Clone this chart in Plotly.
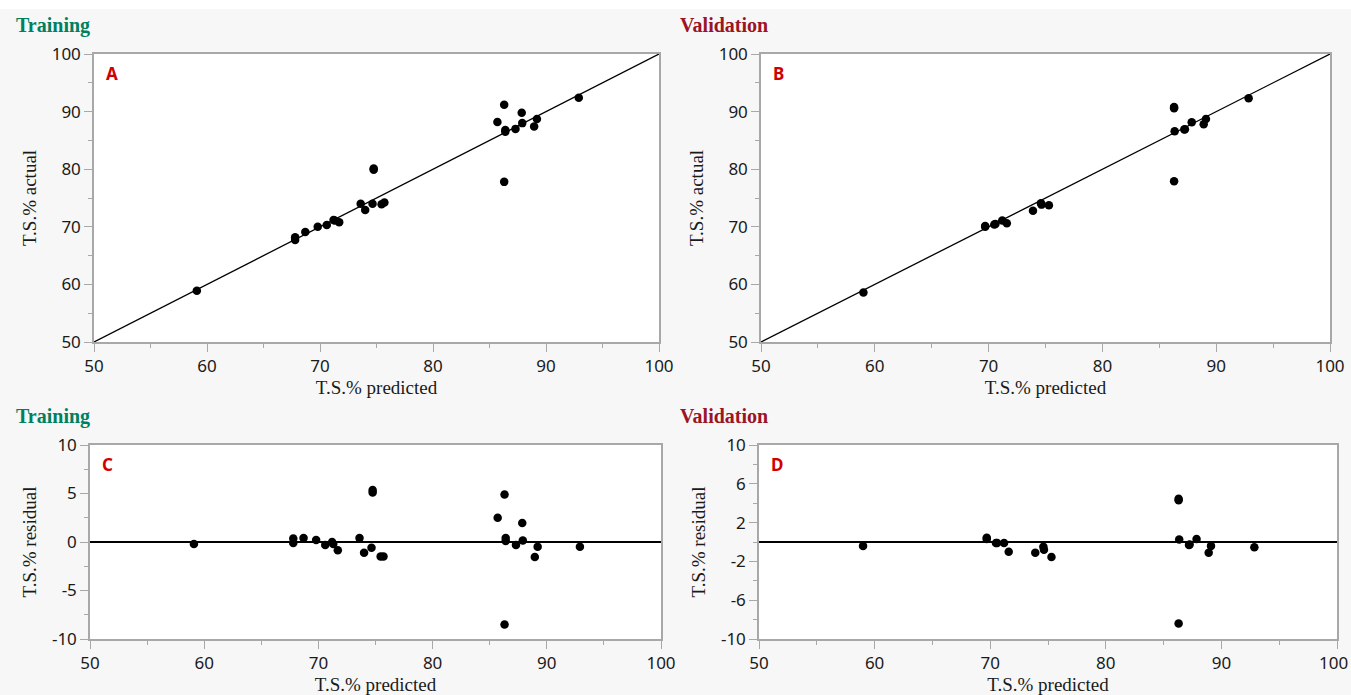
import plotly.graph_objects as go

# ---------------- data ----------------
train_pred = [59.1, 67.8, 67.8, 68.7, 69.8, 70.6, 71.2, 71.3, 71.7, 73.6, 74.0, 74.65,
              74.75, 74.75, 75.45, 75.7, 85.7, 86.3, 86.4, 86.4, 86.3, 87.3, 87.85,
              87.9, 88.95, 89.2, 92.9]
train_actual = [58.9, 68.2, 67.7, 69.1, 70.0, 70.3, 71.2, 71.1, 70.8, 74.0, 72.9, 74.0,
                80.1, 79.9, 73.9, 74.2, 88.2, 91.2, 86.8, 86.5, 77.8, 87.0, 89.8,
                88.0, 87.4, 88.7, 92.4]
train_resid = [-0.2, 0.35, -0.1, 0.4, 0.2, -0.3, 0.0, -0.2, -0.85, 0.4, -1.1, -0.6,
               5.35, 5.1, -1.5, -1.5, 2.5, 4.9, 0.4, 0.1, -8.5, -0.3, 1.95,
               0.15, -1.55, -0.5, -0.5]

valid_pred = [59.0, 69.7, 69.7, 70.5, 70.6, 71.2, 71.6, 73.9, 74.6, 74.65, 75.3,
              86.3, 86.3, 86.35, 86.3, 87.2, 87.25, 87.85, 88.9, 89.1, 92.85]
valid_actual = [58.6, 70.15, 70.0, 70.4, 70.5, 71.1, 70.6, 72.8, 74.1, 73.85, 73.75,
                90.8, 90.6, 86.6, 77.9, 86.9, 86.95, 88.15, 87.8, 88.7, 92.3]
valid_resid = [-0.4, 0.45, 0.3, -0.1, -0.1, -0.1, -1.0, -1.1, -0.5, -0.8, -1.55,
               4.45, 4.3, 0.25, -8.4, -0.3, -0.25, 0.3, -1.1, -0.4, -0.55]

x_range = [50, 100]
x_ticks = [50, 60, 70, 80, 90, 100]
y_ticks_top = [50, 60, 70, 80, 90, 100]
y_ticks_c = [-10, -5, 0, 5, 10]
y_ticks_d = [-10, -6, -2, 2, 6, 10]

panel_titles = ["Training", "Validation", "Training", "Validation"]
panel_letters = ["A", "B", "C", "D"]
x_title = "T.S.% predicted"
y_titles = ["T.S.% actual", "T.S.% actual", "T.S.% residual", "T.S.% residual"]

# ---------------- layout helpers ----------------
W, H = 1351, 695
def fx(px):
    return px / W
def fy(py):
    return 1 - py / H

# plot-area pixel boxes (left, right, top, bottom)
boxes = [(94, 659, 54, 342), (761, 1330, 54, 342),
         (90, 661, 445, 639), (759, 1337, 445, 639)]

fig = go.Figure()

MK = dict(color="black", size=8.5)
axis_names = [("x", "y"), ("x2", "y2"), ("x3", "y3"), ("x4", "y4")]

# reference lines
fig.add_trace(go.Scatter(x=x_range, y=x_range, mode="lines", line=dict(color="black", width=1.3),
                         xaxis="x", yaxis="y", hoverinfo="skip"))
fig.add_trace(go.Scatter(x=x_range, y=x_range, mode="lines", line=dict(color="black", width=1.3),
                         xaxis="x2", yaxis="y2", hoverinfo="skip"))
fig.add_trace(go.Scatter(x=x_range, y=[0, 0], mode="lines", line=dict(color="black", width=2),
                         xaxis="x3", yaxis="y3", hoverinfo="skip"))
fig.add_trace(go.Scatter(x=x_range, y=[0, 0], mode="lines", line=dict(color="black", width=2),
                         xaxis="x4", yaxis="y4", hoverinfo="skip"))

# data points
fig.add_trace(go.Scatter(x=train_pred, y=train_actual, mode="markers", marker=MK, xaxis="x", yaxis="y"))
fig.add_trace(go.Scatter(x=valid_pred, y=valid_actual, mode="markers", marker=MK, xaxis="x2", yaxis="y2"))
fig.add_trace(go.Scatter(x=train_pred, y=train_resid, mode="markers", marker=MK, xaxis="x3", yaxis="y3"))
fig.add_trace(go.Scatter(x=valid_pred, y=valid_resid, mode="markers", marker=MK, xaxis="x4", yaxis="y4"))

TICKFONT = dict(family="Noto Sans", size=17, color="#1a1a1a")
TITLEFONT = dict(family="Liberation Serif", size=19, color="#1a1a1a")
BORDER = "#a8a8a8"

def labels(vals):
    return [str(v) for v in vals]

def xaxis(i):
    l, r, t, b = boxes[i]
    return dict(domain=[fx(l), fx(r)], range=x_range, anchor=axis_names[i][1], automargin=False,
                tickvals=x_ticks, ticktext=labels(x_ticks),
                ticks="outside", ticklen=8, tickcolor=BORDER, tickwidth=1.3,
                minor=dict(dtick=5, tick0=50, ticks="outside", ticklen=4, tickcolor=BORDER, tickwidth=1.3),
                showline=True, linecolor=BORDER, linewidth=1.5, mirror=True,
                showgrid=False, zeroline=False, tickfont=TICKFONT,
                title=dict(text=x_title, font=TITLEFONT, standoff=2))

def yaxis(i, rng, ticks, minor_dtick, minor_tick0):
    l, r, t, b = boxes[i]
    return dict(domain=[fy(b), fy(t)], range=rng, anchor=axis_names[i][0], automargin=False,
                tickvals=ticks, ticktext=labels(ticks),
                ticks="outside", ticklen=8, tickcolor=BORDER, tickwidth=1.3,
                minor=dict(dtick=minor_dtick, tick0=minor_tick0, ticks="outside", ticklen=4,
                           tickcolor=BORDER, tickwidth=1.3),
                showline=True, linecolor=BORDER, linewidth=1.5, mirror=True,
                showgrid=False, zeroline=False, tickfont=TICKFONT,
                title=dict(text=y_titles[i], font=TITLEFONT, standoff=10))

fig.update_layout(
    width=W, height=H, showlegend=False, autosize=False,
    margin=dict(l=0, r=0, t=0, b=0, autoexpand=False),
    paper_bgcolor="#f7f7f7", plot_bgcolor="white",
    xaxis=xaxis(0), xaxis2=xaxis(1), xaxis3=xaxis(2), xaxis4=xaxis(3),
    yaxis=yaxis(0, [50, 100], y_ticks_top, 5, 50),
    yaxis2=yaxis(1, [50, 100], y_ticks_top, 5, 50),
    yaxis3=yaxis(2, [-10, 10], y_ticks_c, 2.5, -10),
    yaxis4=yaxis(3, [-10, 10], y_ticks_d, 2, -10),
)

# white strip at the very top
fig.add_shape(type="rect", xref="paper", yref="paper", x0=0, x1=1, y0=fy(9), y1=1,
              fillcolor="white", line=dict(width=0), layer="below")

title_colors = ["#00805f", "#9b1426", "#00805f", "#9b1426"]
title_pos = [(14, 25), (678, 25), (14, 416), (678, 416)]
for i in range(4):
    px, py = title_pos[i]
    fig.add_annotation(x=fx(px), y=fy(py), xref="paper", yref="paper", text="<b>" + panel_titles[i] + "</b>",
                       showarrow=False, xanchor="left", yanchor="middle",
                       font=dict(family="Liberation Serif", size=20, color=title_colors[i]))
    l, r, t, b = boxes[i]
    fig.add_annotation(x=fx(l + 10), y=fy(t + 20), xref="paper", yref="paper", text="<b>" + panel_letters[i] + "</b>",
                       showarrow=False, xanchor="left", yanchor="middle",
                       font=dict(family="Noto Sans", size=17, color="#d00000"))

# last x tick label of panel D sits at the page edge; plotly drops it, so place it as text
fig.add_annotation(x=x_ticks[-1], y=fy(662), xref="x4", yref="paper",
                   text=str(x_ticks[-1]), showarrow=False, xanchor="right", yanchor="middle",
                   xshift=13, font=TICKFONT)

fig.write_html("out.html", config={"displayModeBar": False},
               post_script="document.body.style.margin='0';document.body.style.overflow='hidden';")
